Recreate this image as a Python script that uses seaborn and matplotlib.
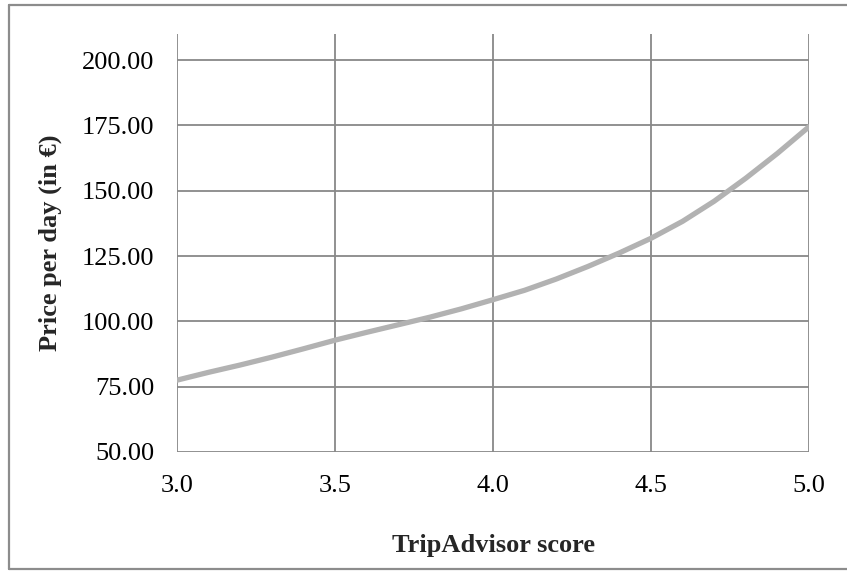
import matplotlib
matplotlib.use("Agg")
import matplotlib.pyplot as plt
from matplotlib.lines import Line2D
import seaborn as sns
import pandas as pd

# TripAdvisor score vs. price per day
scores = [3.0, 3.1, 3.2, 3.3, 3.4, 3.5, 3.6, 3.7, 3.8, 3.9, 4.0,
          4.1, 4.2, 4.3, 4.4, 4.5, 4.6, 4.7, 4.8, 4.9, 5.0]
prices = [77.5, 80.5, 83.3, 86.3, 89.5, 92.8, 95.8, 98.7, 101.6, 104.8, 108.3,
          111.9, 116.2, 121.0, 126.2, 131.8, 138.3, 146.0, 154.8, 164.3, 174.5]
x_ticks = [3.0, 3.5, 4.0, 4.5, 5.0]
y_ticks = [50, 75, 100, 125, 150, 175, 200]

df = pd.DataFrame({"score": scores, "price": prices})

sns.set_style("white")
plt.rcParams["font.family"] = ["Liberation Serif", "DejaVu Serif"]

W, H = 847, 571
fig = plt.figure(figsize=(W / 100, H / 100), dpi=100)
ax = fig.add_axes([177 / W, 1 - 452 / H, (809 - 177) / W, (452 - 34) / H])

grid_c = "#888888"
sns.lineplot(data=df, x="score", y="price", ax=ax, color="#b2b2b2",
             linewidth=3.8, zorder=3)

ax.set_xlim(3.0, 5.0)
ax.set_ylim(50, 210)
ax.set_xticks(x_ticks)
ax.set_yticks(y_ticks)
ax.set_xticklabels([f"{v:.1f}" for v in x_ticks])
ax.set_yticklabels([f"{v:.2f}" for v in y_ticks])
ax.grid(True, color=grid_c, linewidth=1.3)
ax.set_axisbelow(True)
for s in ax.spines.values():
    s.set_visible(False)
ax.tick_params(axis="both", which="major", length=5.5, width=1.3,
               color=grid_c, labelsize=19, labelcolor="black", direction="out")
ax.tick_params(axis="x", pad=11)
ax.tick_params(axis="y", pad=11)

ax.set_xlabel("TripAdvisor score", fontsize=19, fontweight="bold", labelpad=27)
ax.set_ylabel("Price per day (in €)", fontsize=19, fontweight="bold", labelpad=14)

# outer chart border
bc = "#8c8c8c"
fig.add_artist(Line2D([9 / W, 9 / W], [1 - 4.5 / H, 1 - 569 / H], color=bc, lw=1.6, transform=fig.transFigure))
fig.add_artist(Line2D([9 / W, 1.01], [1 - 4.5 / H, 1 - 4.5 / H], color=bc, lw=1.6, transform=fig.transFigure))
fig.add_artist(Line2D([9 / W, 1.01], [1 - 569 / H, 1 - 569 / H], color=bc, lw=1.6, transform=fig.transFigure))

fig.savefig("out.png", dpi=100)
